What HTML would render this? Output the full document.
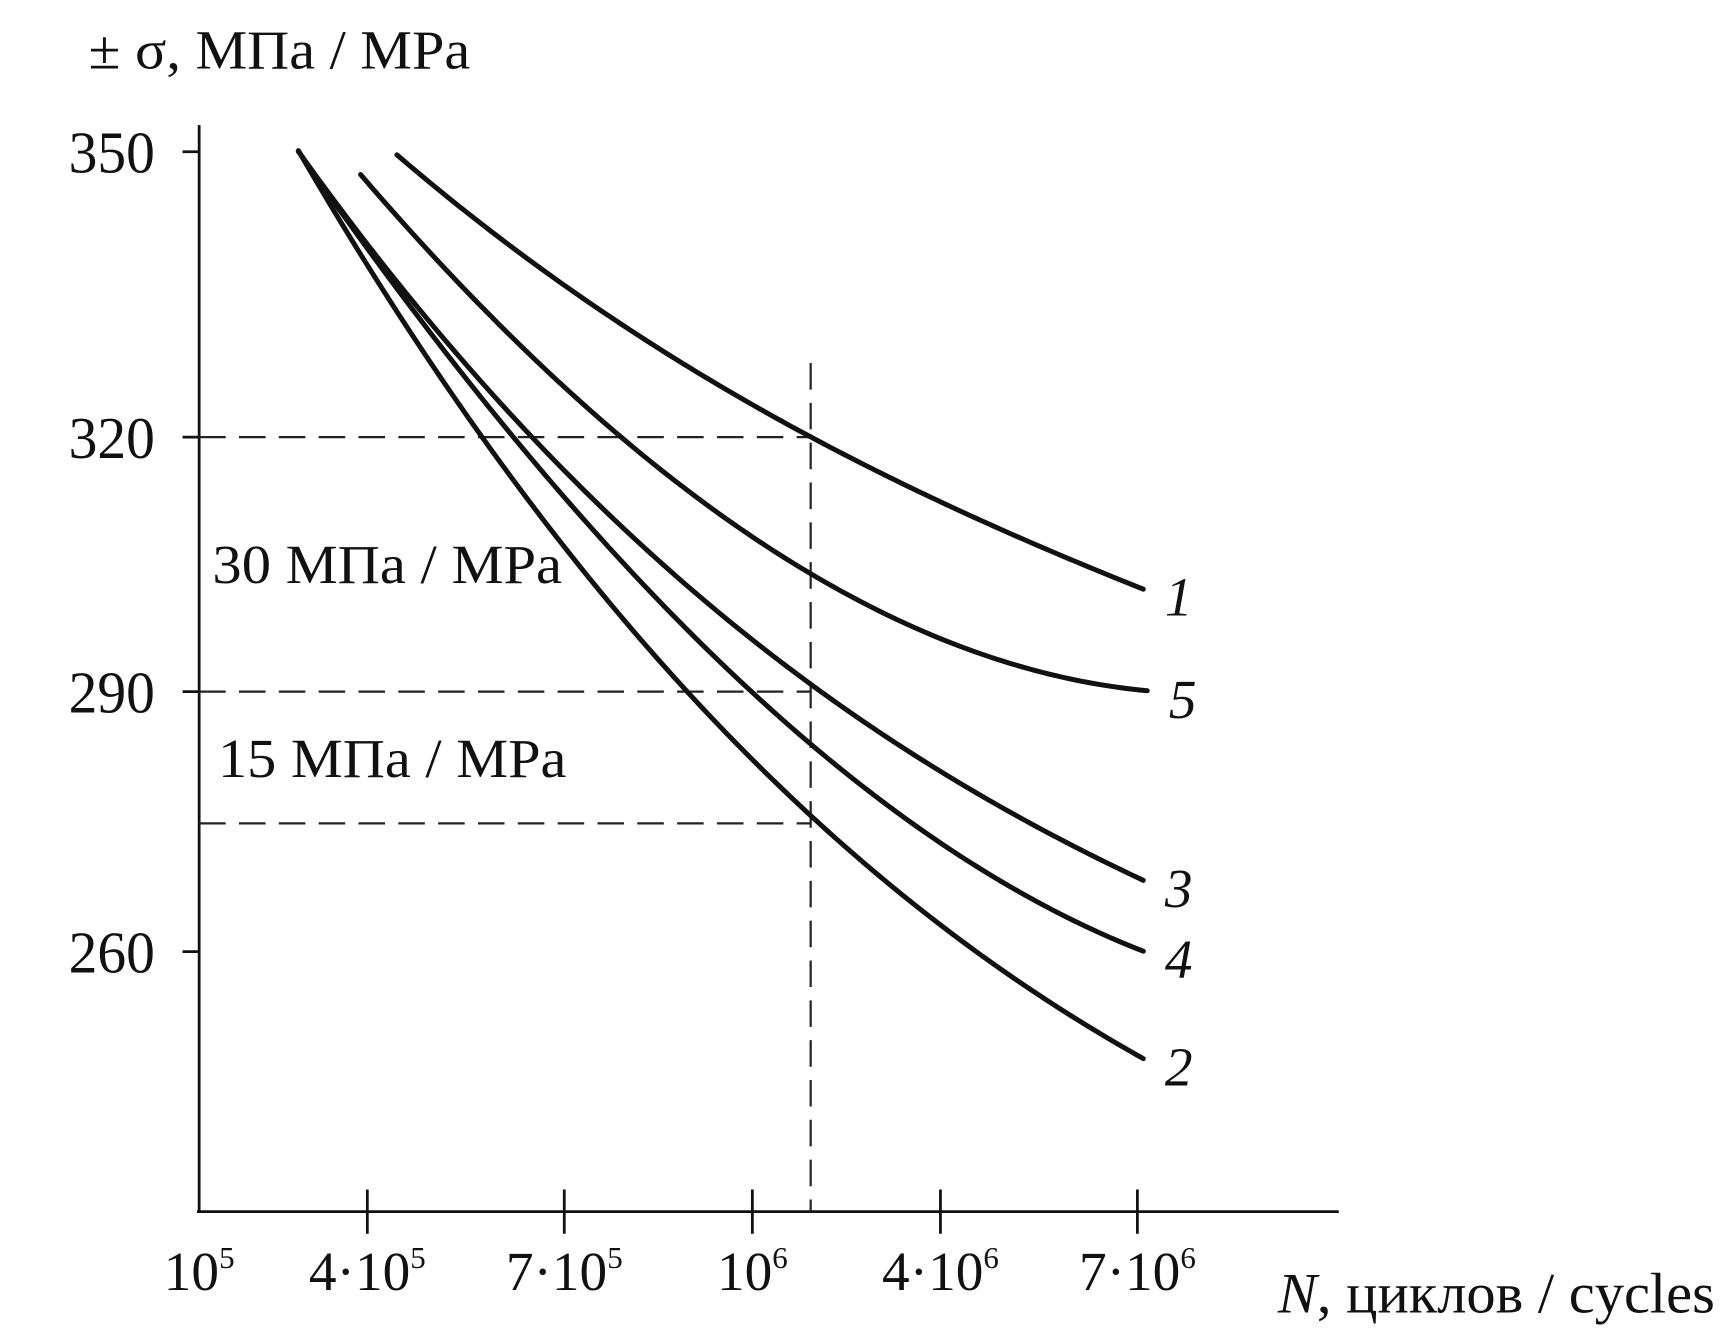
<!DOCTYPE html>
<html><head><meta charset="utf-8"><style>
html,body{margin:0;padding:0;background:#fff;}
svg{display:block;}
text{font-family:"Liberation Serif","Noto Serif CJK SC",serif;fill:#111;}
</style></head><body>
<svg id="chart" width="1726" height="1339" viewBox="0 0 1560 1210" xmlns="http://www.w3.org/2000/svg">
<g id="axes"></g>
<g id="grid"></g>
<g id="curves"></g>
<g id="labels"></g>
</svg>
<script>
const xTickLabels = [["10","5"],["4·10","5"],["7·10","5"],["10","6"],["4·10","6"],["7·10","6"]];
const yTicks = [260, 290, 320, 350];
const refLevels = [320, 290, 274.8];
const refX = 3.31;
const curveNames = ["1","5","3","4","2"];
const xs1 = [1.15, 1.53, 2.12, 2.73, 3.32, 3.94, 4.53, 5.03];
const ys1 = [349.7, 343.0, 334.2, 326.5, 320.5, 312.6, 306.7, 302.1];
const xs5 = [0.96, 1.34, 1.72, 2.22, 2.73, 3.32, 3.94, 4.53, 5.05];
const ys5 = [347.4, 340.2, 332.2, 320.5, 311.1, 303.6, 297.5, 293.0, 290.0];
const xs3 = [0.59, 1.33, 1.82, 3.31, 4.14, 5.03];
const ys3 = [350, 332.2, 320.2, 290.4, 279.4, 268.2];
const xs4 = [0.59, 1.29, 1.74, 2.96, 3.32, 4.14, 5.03];
const ys4 = [350, 332.2, 320.2, 290.4, 283.0, 271.5, 260.0];
const xs2 = [0.59, 1.22, 1.58, 2.59, 3.32, 3.94, 5.03];
const ys2 = [350, 332.2, 320.2, 290.4, 274.8, 265.5, 247.6];

const NS = "http://www.w3.org/2000/svg";
const AXY = 1095;
function pw(dom, rng, v){
  const n = dom.length;
  let k = 0;
  while (k < n-2 && v > dom[k+1]) k++;
  return rng[k] + (v-dom[k])*(rng[k+1]-rng[k])/(dom[k+1]-dom[k]);
}
const xd = [0,1,2,3,4,5], xr = [180, 332, 510, 680, 850, 1028];
function sx(i){ return pw(xd, xr, i); }
const yd = [260,290,320,350], yr = [860,625,395,137];
function sy(v){ return pw(yd, yr, v); }
function mk(tag, attrs, parent){
  const e = document.createElementNS(NS, tag);
  for (const k in attrs) e.setAttribute(k, attrs[k]);
  parent.appendChild(e); return e;
}
const axes = document.getElementById('axes');
let el = mk('line',{x1:180,y1:113,x2:180,y2:AXY,stroke:'#111','stroke-width':2.5},axes);
 
el = mk('line',{x1:178,y1:AXY,x2:1210,y2:AXY,stroke:'#111','stroke-width':2.5},axes);
 
yTicks.forEach(v=>{
  const t = mk('line',{x1:165,y1:sy(v),x2:180,y2:sy(v),stroke:'#111','stroke-width':2.5},axes);
   
  const l = mk('text',{x:140,y:sy(v)+19,'text-anchor':'end','font-size':54,textLength:78,lengthAdjust:'spacingAndGlyphs'},axes);
  l.textContent = v;
   
});
xTickLabels.forEach((lb,i)=>{
  if (i>0){
    const t = mk('line',{x1:sx(i),y1:AXY-20,x2:sx(i),y2:AXY+20,stroke:'#111','stroke-width':2.5},axes);
     
  }
  const l = mk('text',{x:sx(i),y:1166,'text-anchor':'middle','font-size':50},axes);
   
  const a = mk('tspan',{},l); a.textContent = lb[0];
  const b = mk('tspan',{dy:-20,'font-size':28},l); b.textContent = lb[1];
});
const grid = document.getElementById('grid');
refLevels.forEach(v=>{
  const d = mk('line',{x1:180,y1:sy(v),x2:sx(refX),y2:sy(v),stroke:'#222','stroke-width':2,'stroke-dasharray':'24 12'},grid);
   
});
el = mk('line',{x1:sx(refX),y1:328,x2:sx(refX),y2:AXY,stroke:'#222','stroke-width':2,'stroke-dasharray':'24 12'},grid);
 

// least-squares cubic fit in pixel space -> smooth curve through the data
function solve(A, b){
  const n = b.length;
  for (let i=0;i<n;i++){
    let m=i; for (let r=i+1;r<n;r++) if (Math.abs(A[r][i])>Math.abs(A[m][i])) m=r;
    [A[i],A[m]]=[A[m],A[i]]; [b[i],b[m]]=[b[m],b[i]];
    for (let r=i+1;r<n;r++){ const f=A[r][i]/A[i][i]; for(let c=i;c<n;c++) A[r][c]-=f*A[i][c]; b[r]-=f*b[i]; }
  }
  const x=new Array(n).fill(0);
  for (let i=n-1;i>=0;i--){ let s=b[i]; for(let c=i+1;c<n;c++) s-=A[i][c]*x[c]; x[i]=s/A[i][i]; }
  return x;
}
function pathFor(xs, ys){
  const px = xs.map(sx), py = ys.map(sy);
  const x0 = px[0], x1 = px[px.length-1], L = x1-x0;
  const deg = Math.min(3, px.length-1);
  const A = [], b = [];
  for (let i=0;i<=deg;i++){ A.push(new Array(deg+1).fill(0)); b.push(0); }
  px.forEach((xv,k)=>{
    const u=(xv-x0)/L;
    const w = (k===0||k===px.length-1) ? 6 : 1;
    for (let i=0;i<=deg;i++){
      for (let j=0;j<=deg;j++) A[i][j]+=w*Math.pow(u,i+j);
      b[i]+=w*Math.pow(u,i)*py[k];
    }
  });
  const c = solve(A,b);
  const pts=[];
  for (let s=0;s<=120;s++){
    const u=s/120; let y=0;
    for (let i=0;i<=deg;i++) y+=c[i]*Math.pow(u,i);
    pts.push((x0+u*L).toFixed(2)+','+y.toFixed(2));
  }
  return 'M'+pts.join(' L');
}
const curves = document.getElementById('curves');
const series = [[xs1,ys1],[xs5,ys5],[xs3,ys3],[xs4,ys4],[xs2,ys2]];
series.forEach((s,k)=>{
  const c = mk('path',{d:pathFor(s[0],s[1]),fill:'none',stroke:'#111','stroke-width':4.5,'stroke-linecap':'round','stroke-linejoin':'round'},curves);
   
  const lx = s[0][s[0].length-1], ly = s[1][s[1].length-1];
  const t = mk('text',{x:sx(lx)+32,y:sy(ly)+24,'text-anchor':'middle','font-size':50,'font-style':'italic'},curves);
  t.textContent = curveNames[k];
   
});
const labels = document.getElementById('labels');
function txt(s,x,y,fs,w,name){
  const t = mk('text',{x:x,y:y,'font-size':fs,textLength:w,lengthAdjust:'spacingAndGlyphs'},labels);
  t.textContent = s;
  
  
  return t;
}
txt('± σ, МПа / MPa',80,62,50,345,'y-axis-title');
txt('30 МПа / MPa',192,527,50,316,'annotation-30-mpa');
txt('15 МПа / MPa',197,702,50,315,'annotation-15-mpa');
const xt = mk('text',{x:1155,y:1186,'font-size':52,textLength:395,lengthAdjust:'spacingAndGlyphs'},labels);
 
const n1 = mk('tspan',{'font-style':'italic'},xt); n1.textContent='N';
const n2 = mk('tspan',{},xt); n2.textContent=', циклов / cycles';
</script>
</body></html>
